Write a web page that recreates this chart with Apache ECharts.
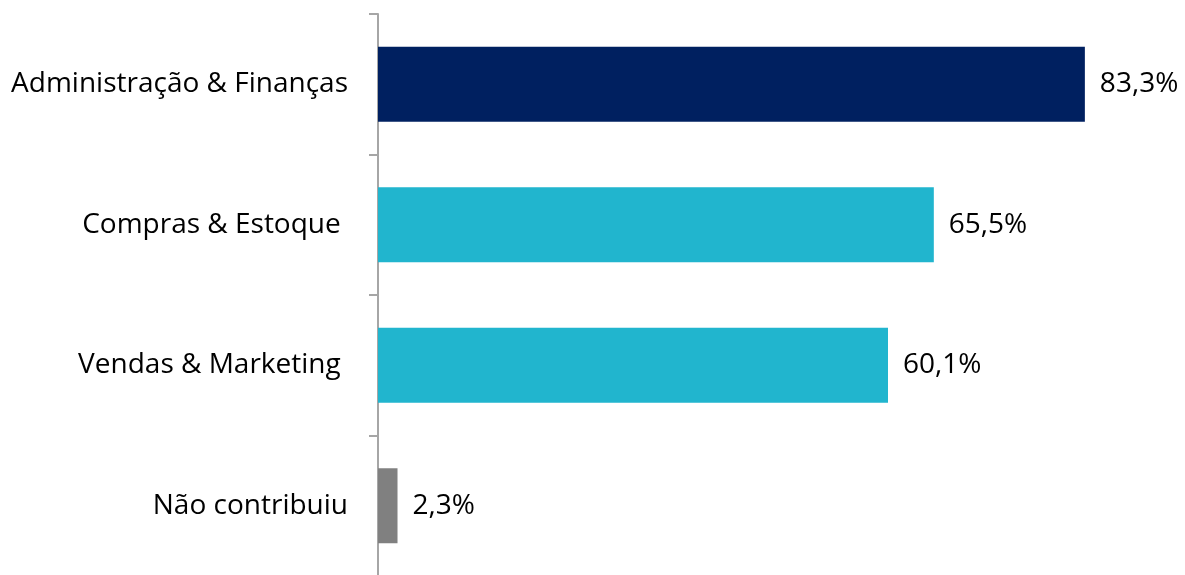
<!DOCTYPE html>
<html>
<head>
<meta charset="utf-8">
<script src="https://cdn.jsdelivr.net/npm/echarts@6/dist/echarts.min.js"></script>
<style>html,body{margin:0;padding:0;background:#fff;overflow:hidden}#c{width:1185px;height:590px}</style>
</head>
<body>
<div id="c"></div>
<script>
const categories = ['Administração & Finanças', 'Compras & Estoque ', 'Vendas & Marketing ', 'Não contribuiu'];
const values = [83.3, 65.5, 60.1, 2.3];
const barColors = ['#002060', '#21B5CE', '#21B5CE', '#808080'];

const chart = echarts.init(document.getElementById('c'));
chart.setOption({
  animation: false,
  grid: { left: 378, right: 0, top: 14, height: 562, containLabel: false },
  xAxis: { type: 'value', min: 0, max: 95.1, show: false },
  yAxis: {
    type: 'category', inverse: true, data: categories,
    axisLine: { lineStyle: { color: '#A6A6A6', width: 2 } },
    axisTick: { show: true, length: 9, lineStyle: { color: '#A6A6A6', width: 2 } },
    axisLabel: { margin: 30, color: '#000', fontSize: 28, fontFamily: 'Open Sans' }
  },
  series: [{
    type: 'bar', barWidth: '53.5%',
    data: values.map((v, i) => ({ value: v, itemStyle: { color: barColors[i] } })),
    label: {
      show: true, position: 'right', distance: 15, color: '#000', fontSize: 28, fontFamily: 'Open Sans',
      formatter: p => p.value.toFixed(1).replace('.', ',') + '%'
    }
  }]
});
</script>
</body>
</html>
